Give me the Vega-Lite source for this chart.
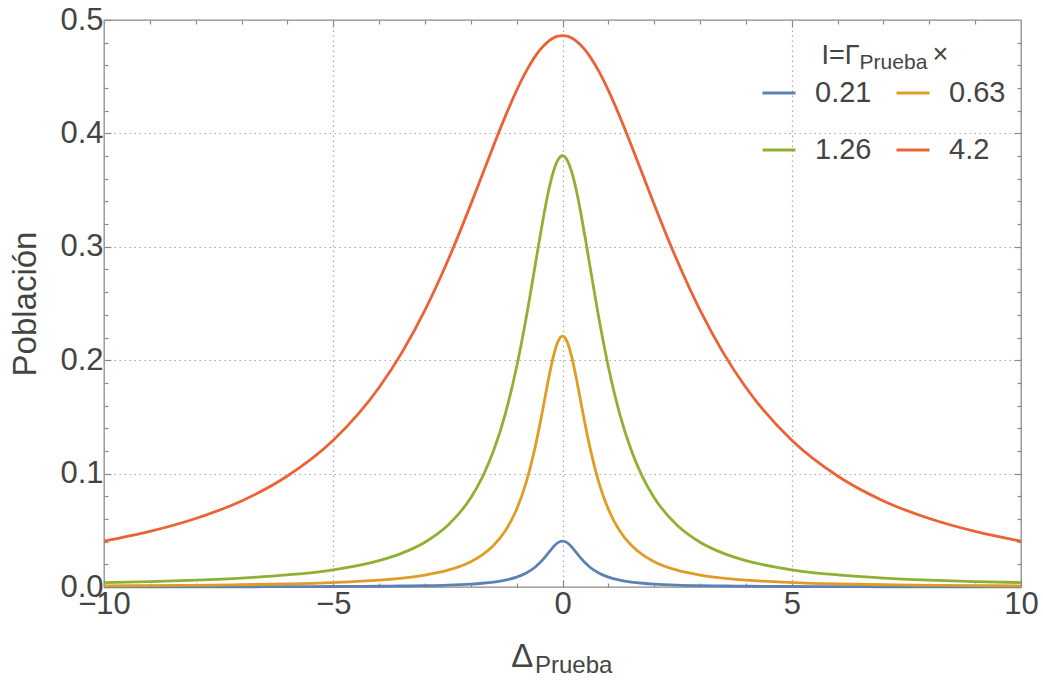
{
  "$schema": "https://vega.github.io/schema/vega-lite/v6.json",
  "width": 917,
  "height": 567,
  "autosize": {"type": "none"},
  "padding": {"left": 104, "top": 20, "right": 22, "bottom": 97},
  "background": "white",
  "config": {
    "view": {"stroke": "#8a8a8a", "strokeWidth": 1.3},
    "font": "Liberation Sans",
    "axis": {"domain": false, "tickColor": "#8a8a8a", "tickWidth": 1.2, "labelFont": "Liberation Sans", "titleFont": "Liberation Sans", "labelColor": "#444444", "titleColor": "#444444", "titleFontWeight": "normal", "gridColor": "#a8a8a8", "gridDash": [1.5, 3.5], "gridWidth": 1.2, "labelFlush": false, "labelOverlap": false},
    "legend": {"labelFont": "Liberation Sans", "labelColor": "#444444"}
  },
  "datasets": {
    "curves": [
      {"d": -10, "p": 0.00011, "I": "0.21"}, {"d": -9, "p": 0.00014, "I": "0.21"}, {"d": -8, "p": 0.00017, "I": "0.21"}, {"d": -7, "p": 0.00022, "I": "0.21"}, {"d": -6, "p": 0.0003, "I": "0.21"}, {"d": -5, "p": 0.00044, "I": "0.21"}, {"d": -4, "p": 0.00068, "I": "0.21"}, {"d": -3.5, "p": 0.00088, "I": "0.21"}, {"d": -3, "p": 0.00119, "I": "0.21"}, {"d": -2.5, "p": 0.00169, "I": "0.21"}, {"d": -2, "p": 0.00258, "I": "0.21"}, {"d": -1.75, "p": 0.00331, "I": "0.21"}, {"d": -1.5, "p": 0.00437, "I": "0.21"}, {"d": -1.25, "p": 0.00601, "I": "0.21"}, {"d": -1, "p": 0.00867, "I": "0.21"}, {"d": -0.8, "p": 0.0121, "I": "0.21"}, {"d": -0.6, "p": 0.0174, "I": "0.21"}, {"d": -0.5, "p": 0.0211, "I": "0.21"}, {"d": -0.4, "p": 0.0255, "I": "0.21"}, {"d": -0.3, "p": 0.0305, "I": "0.21"}, {"d": -0.2, "p": 0.0353, "I": "0.21"}, {"d": -0.1, "p": 0.0391, "I": "0.21"}, {"d": 0, "p": 0.0405, "I": "0.21"}, {"d": 0.1, "p": 0.0391, "I": "0.21"}, {"d": 0.2, "p": 0.0353, "I": "0.21"}, {"d": 0.3, "p": 0.0305, "I": "0.21"}, {"d": 0.4, "p": 0.0255, "I": "0.21"}, {"d": 0.5, "p": 0.0211, "I": "0.21"}, {"d": 0.6, "p": 0.0174, "I": "0.21"}, {"d": 0.8, "p": 0.0121, "I": "0.21"}, {"d": 1, "p": 0.00867, "I": "0.21"}, {"d": 1.25, "p": 0.00601, "I": "0.21"}, {"d": 1.5, "p": 0.00437, "I": "0.21"}, {"d": 1.75, "p": 0.00331, "I": "0.21"}, {"d": 2, "p": 0.00258, "I": "0.21"}, {"d": 2.5, "p": 0.00169, "I": "0.21"}, {"d": 3, "p": 0.00119, "I": "0.21"}, {"d": 3.5, "p": 0.00088, "I": "0.21"}, {"d": 4, "p": 0.00068, "I": "0.21"}, {"d": 5, "p": 0.00044, "I": "0.21"}, {"d": 6, "p": 0.0003, "I": "0.21"}, {"d": 7, "p": 0.00022, "I": "0.21"}, {"d": 8, "p": 0.00017, "I": "0.21"}, {"d": 9, "p": 0.00014, "I": "0.21"}, {"d": 10, "p": 0.00011, "I": "0.21"},
      {"d": -10, "p": 0.001, "I": "0.63"}, {"d": -9, "p": 0.0012, "I": "0.63"}, {"d": -8, "p": 0.0015, "I": "0.63"}, {"d": -7, "p": 0.002, "I": "0.63"}, {"d": -6, "p": 0.0027, "I": "0.63"}, {"d": -5, "p": 0.0039, "I": "0.63"}, {"d": -4, "p": 0.006, "I": "0.63"}, {"d": -3.5, "p": 0.0078, "I": "0.63"}, {"d": -3, "p": 0.0105, "I": "0.63"}, {"d": -2.5, "p": 0.0148, "I": "0.63"}, {"d": -2, "p": 0.0223, "I": "0.63"}, {"d": -1.75, "p": 0.0283, "I": "0.63"}, {"d": -1.5, "p": 0.0368, "I": "0.63"}, {"d": -1.25, "p": 0.0493, "I": "0.63"}, {"d": -1, "p": 0.0685, "I": "0.63"}, {"d": -0.8, "p": 0.0912, "I": "0.63"}, {"d": -0.6, "p": 0.1227, "I": "0.63"}, {"d": -0.5, "p": 0.1421, "I": "0.63"}, {"d": -0.4, "p": 0.1631, "I": "0.63"}, {"d": -0.3, "p": 0.1843, "I": "0.63"}, {"d": -0.2, "p": 0.2031, "I": "0.63"}, {"d": -0.1, "p": 0.2164, "I": "0.63"}, {"d": 0, "p": 0.2213, "I": "0.63"}, {"d": 0.1, "p": 0.2164, "I": "0.63"}, {"d": 0.2, "p": 0.2031, "I": "0.63"}, {"d": 0.3, "p": 0.1843, "I": "0.63"}, {"d": 0.4, "p": 0.1631, "I": "0.63"}, {"d": 0.5, "p": 0.1421, "I": "0.63"}, {"d": 0.6, "p": 0.1227, "I": "0.63"}, {"d": 0.8, "p": 0.0912, "I": "0.63"}, {"d": 1, "p": 0.0685, "I": "0.63"}, {"d": 1.25, "p": 0.0493, "I": "0.63"}, {"d": 1.5, "p": 0.0368, "I": "0.63"}, {"d": 1.75, "p": 0.0283, "I": "0.63"}, {"d": 2, "p": 0.0223, "I": "0.63"}, {"d": 2.5, "p": 0.0148, "I": "0.63"}, {"d": 3, "p": 0.0105, "I": "0.63"}, {"d": 3.5, "p": 0.0078, "I": "0.63"}, {"d": 4, "p": 0.006, "I": "0.63"}, {"d": 5, "p": 0.0039, "I": "0.63"}, {"d": 6, "p": 0.0027, "I": "0.63"}, {"d": 7, "p": 0.002, "I": "0.63"}, {"d": 8, "p": 0.0015, "I": "0.63"}, {"d": 9, "p": 0.0012, "I": "0.63"}, {"d": 10, "p": 0.001, "I": "0.63"},
      {"d": -10, "p": 0.0039, "I": "1.26"}, {"d": -9, "p": 0.0048, "I": "1.26"}, {"d": -8, "p": 0.0061, "I": "1.26"}, {"d": -7, "p": 0.0079, "I": "1.26"}, {"d": -6, "p": 0.0107, "I": "1.26"}, {"d": -5, "p": 0.0152, "I": "1.26"}, {"d": -4, "p": 0.0233, "I": "1.26"}, {"d": -3.5, "p": 0.0299, "I": "1.26"}, {"d": -3, "p": 0.0395, "I": "1.26"}, {"d": -2.5, "p": 0.0544, "I": "1.26"}, {"d": -2, "p": 0.0787, "I": "1.26"}, {"d": -1.75, "p": 0.0967, "I": "1.26"}, {"d": -1.5, "p": 0.1205, "I": "1.26"}, {"d": -1.25, "p": 0.1523, "I": "1.26"}, {"d": -1, "p": 0.1942, "I": "1.26"}, {"d": -0.8, "p": 0.2357, "I": "1.26"}, {"d": -0.6, "p": 0.2827, "I": "1.26"}, {"d": -0.5, "p": 0.3068, "I": "1.26"}, {"d": -0.4, "p": 0.3297, "I": "1.26"}, {"d": -0.3, "p": 0.3501, "I": "1.26"}, {"d": -0.2, "p": 0.3662, "I": "1.26"}, {"d": -0.1, "p": 0.3766, "I": "1.26"}, {"d": 0, "p": 0.3803, "I": "1.26"}, {"d": 0.1, "p": 0.3766, "I": "1.26"}, {"d": 0.2, "p": 0.3662, "I": "1.26"}, {"d": 0.3, "p": 0.3501, "I": "1.26"}, {"d": 0.4, "p": 0.3297, "I": "1.26"}, {"d": 0.5, "p": 0.3068, "I": "1.26"}, {"d": 0.6, "p": 0.2827, "I": "1.26"}, {"d": 0.8, "p": 0.2357, "I": "1.26"}, {"d": 1, "p": 0.1942, "I": "1.26"}, {"d": 1.25, "p": 0.1523, "I": "1.26"}, {"d": 1.5, "p": 0.1205, "I": "1.26"}, {"d": 1.75, "p": 0.0967, "I": "1.26"}, {"d": 2, "p": 0.0787, "I": "1.26"}, {"d": 2.5, "p": 0.0544, "I": "1.26"}, {"d": 3, "p": 0.0395, "I": "1.26"}, {"d": 3.5, "p": 0.0299, "I": "1.26"}, {"d": 4, "p": 0.0233, "I": "1.26"}, {"d": 5, "p": 0.0152, "I": "1.26"}, {"d": 6, "p": 0.0107, "I": "1.26"}, {"d": 7, "p": 0.0079, "I": "1.26"}, {"d": 8, "p": 0.0061, "I": "1.26"}, {"d": 9, "p": 0.0048, "I": "1.26"}, {"d": 10, "p": 0.0039, "I": "1.26"},
      {"d": -10, "p": 0.0404, "I": "4.2"}, {"d": -9, "p": 0.049, "I": "4.2"}, {"d": -8, "p": 0.0604, "I": "4.2"}, {"d": -7, "p": 0.0759, "I": "4.2"}, {"d": -6, "p": 0.0979, "I": "4.2"}, {"d": -5, "p": 0.1294, "I": "4.2"}, {"d": -4, "p": 0.1759, "I": "4.2"}, {"d": -3.5, "p": 0.2069, "I": "4.2"}, {"d": -3, "p": 0.2441, "I": "4.2"}, {"d": -2.5, "p": 0.2879, "I": "4.2"}, {"d": -2, "p": 0.3374, "I": "4.2"}, {"d": -1.75, "p": 0.3635, "I": "4.2"}, {"d": -1.5, "p": 0.3896, "I": "4.2"}, {"d": -1.25, "p": 0.4148, "I": "4.2"}, {"d": -1, "p": 0.4379, "I": "4.2"}, {"d": -0.8, "p": 0.4542, "I": "4.2"}, {"d": -0.6, "p": 0.4677, "I": "4.2"}, {"d": -0.5, "p": 0.4732, "I": "4.2"}, {"d": -0.4, "p": 0.4778, "I": "4.2"}, {"d": -0.3, "p": 0.4814, "I": "4.2"}, {"d": -0.2, "p": 0.4841, "I": "4.2"}, {"d": -0.1, "p": 0.4857, "I": "4.2"}, {"d": 0, "p": 0.4862, "I": "4.2"}, {"d": 0.1, "p": 0.4857, "I": "4.2"}, {"d": 0.2, "p": 0.4841, "I": "4.2"}, {"d": 0.3, "p": 0.4814, "I": "4.2"}, {"d": 0.4, "p": 0.4778, "I": "4.2"}, {"d": 0.5, "p": 0.4732, "I": "4.2"}, {"d": 0.6, "p": 0.4677, "I": "4.2"}, {"d": 0.8, "p": 0.4542, "I": "4.2"}, {"d": 1, "p": 0.4379, "I": "4.2"}, {"d": 1.25, "p": 0.4148, "I": "4.2"}, {"d": 1.5, "p": 0.3896, "I": "4.2"}, {"d": 1.75, "p": 0.3635, "I": "4.2"}, {"d": 2, "p": 0.3374, "I": "4.2"}, {"d": 2.5, "p": 0.2879, "I": "4.2"}, {"d": 3, "p": 0.2441, "I": "4.2"}, {"d": 3.5, "p": 0.2069, "I": "4.2"}, {"d": 4, "p": 0.1759, "I": "4.2"}, {"d": 5, "p": 0.1294, "I": "4.2"}, {"d": 6, "p": 0.0979, "I": "4.2"}, {"d": 7, "p": 0.0759, "I": "4.2"}, {"d": 8, "p": 0.0604, "I": "4.2"}, {"d": 9, "p": 0.049, "I": "4.2"}, {"d": 10, "p": 0.0404, "I": "4.2"}
    ],
    "one": [{"k": 1}]
  },
  "layer": [
    {
      "data": {"name": "curves"},
      "mark": {"type": "line", "opacity": 0},
      "encoding": {
        "x": {"field": "d", "type": "quantitative", "scale": {"domain": [-10, 10], "nice": false, "zero": false}, "axis": {"orient": "bottom", "values": [-9, -8, -7, -6, -4, -3, -2, -1, 1, 2, 3, 4, 6, 7, 8, 9], "tickSize": -4, "labels": false, "grid": false, "title": null}},
        "y": {"field": "p", "type": "quantitative", "scale": {"domain": [0, 0.5], "nice": false, "zero": false}, "axis": {"orient": "left", "values": [0.02, 0.04, 0.06, 0.08, 0.12, 0.14, 0.16, 0.18, 0.22, 0.24, 0.26, 0.28, 0.32, 0.34, 0.36, 0.38, 0.42, 0.44, 0.46, 0.48], "tickSize": -4, "labels": false, "grid": false, "title": null}}
      }
    },
    {
      "data": {"name": "curves"},
      "mark": {"type": "line", "opacity": 0},
      "encoding": {
        "x": {"field": "d", "type": "quantitative", "scale": {"domain": [-10, 10], "nice": false, "zero": false}, "axis": {"orient": "top", "values": [-9, -8, -7, -6, -4, -3, -2, -1, 1, 2, 3, 4, 6, 7, 8, 9], "tickSize": -4, "labels": false, "grid": false, "title": null}},
        "y": {"field": "p", "type": "quantitative", "scale": {"domain": [0, 0.5], "nice": false, "zero": false}, "axis": {"orient": "right", "values": [0.02, 0.04, 0.06, 0.08, 0.12, 0.14, 0.16, 0.18, 0.22, 0.24, 0.26, 0.28, 0.32, 0.34, 0.36, 0.38, 0.42, 0.44, 0.46, 0.48], "tickSize": -4, "labels": false, "grid": false, "title": null}}
      }
    },
    {
      "data": {"name": "curves"},
      "mark": {"type": "line", "opacity": 0},
      "encoding": {
        "x": {"field": "d", "type": "quantitative", "scale": {"domain": [-10, 10], "nice": false, "zero": false}, "axis": {"orient": "top", "values": [-5, 0, 5], "tickSize": -7, "labels": false, "grid": false, "title": null}},
        "y": {"field": "p", "type": "quantitative", "scale": {"domain": [0, 0.5], "nice": false, "zero": false}, "axis": {"orient": "right", "values": [0.1, 0.2, 0.3, 0.4], "tickSize": -7, "labels": false, "grid": false, "title": null}}
      }
    },
    {
      "data": {"name": "curves"},
      "mark": {"type": "line", "strokeWidth": 2.8, "interpolate": "monotone"},
      "encoding": {
        "x": {"field": "d", "type": "quantitative", "scale": {"domain": [-10, 10], "nice": false, "zero": false}, "axis": {"orient": "bottom", "values": [-10, -5, 0, 5, 10], "format": "d", "tickSize": -7, "labelFontSize": 31, "labelPadding": 9, "grid": true, "title": null}},
        "y": {"field": "p", "type": "quantitative", "scale": {"domain": [0, 0.5], "nice": false, "zero": false}, "axis": {"orient": "left", "values": [0, 0.1, 0.2, 0.3, 0.4, 0.5], "format": ".1f", "tickSize": -7, "labelFontSize": 31, "labelPadding": 8, "grid": true, "title": "Población", "titleFontSize": 33, "titlePadding": 17}},
        "color": {"field": "I", "type": "nominal", "scale": {"domain": ["0.21", "0.63", "1.26", "4.2"], "range": ["#5E81B5", "#E19C24", "#8FB032", "#EB6235"]}, "legend": {"orient": "none", "direction": "horizontal", "legendX": 657, "legendY": 55, "title": null, "columns": 2, "symbolType": "stroke", "symbolSize": 1089, "symbolStrokeWidth": 3, "labelFontSize": 29, "labelOffset": 18, "columnPadding": 18, "rowPadding": 24, "padding": 0}}
      }
    },
    {
      "data": {"name": "one"},
      "mark": {"type": "text", "text": "I=Γ", "align": "left", "baseline": "alphabetic", "fontSize": 27, "color": "#444444"},
      "encoding": {
        "x": {"datum": 5.65, "type": "quantitative", "scale": {"domain": [-10, 10], "nice": false, "zero": false}, "axis": null},
        "y": {"datum": 0.4612, "type": "quantitative", "scale": {"domain": [0, 0.5], "nice": false, "zero": false}, "axis": null}
      }
    },
    {
      "data": {"name": "one"},
      "mark": {"type": "text", "text": "Prueba", "align": "left", "baseline": "alphabetic", "fontSize": 21, "color": "#444444"},
      "encoding": {
        "x": {"datum": 6.48, "type": "quantitative", "scale": {"domain": [-10, 10], "nice": false, "zero": false}, "axis": null},
        "y": {"datum": 0.4568, "type": "quantitative", "scale": {"domain": [0, 0.5], "nice": false, "zero": false}, "axis": null}
      }
    },
    {
      "data": {"name": "one"},
      "mark": {"type": "text", "text": "×", "align": "left", "baseline": "alphabetic", "fontSize": 27, "color": "#444444"},
      "encoding": {
        "x": {"datum": 8.07, "type": "quantitative", "scale": {"domain": [-10, 10], "nice": false, "zero": false}, "axis": null},
        "y": {"datum": 0.4625, "type": "quantitative", "scale": {"domain": [0, 0.5], "nice": false, "zero": false}, "axis": null}
      }
    },
    {
      "data": {"name": "one"},
      "mark": {"type": "text", "text": "Δ", "align": "left", "baseline": "alphabetic", "fontSize": 33, "color": "#444444"},
      "encoding": {
        "x": {"datum": -1.12, "type": "quantitative", "scale": {"domain": [-10, 10], "nice": false, "zero": false}, "axis": null},
        "y": {"datum": -0.0705, "type": "quantitative", "scale": {"domain": [0, 0.5], "nice": false, "zero": false}, "axis": null}
      }
    },
    {
      "data": {"name": "one"},
      "mark": {"type": "text", "text": "Prueba", "align": "left", "baseline": "alphabetic", "fontSize": 24, "color": "#444444"},
      "encoding": {
        "x": {"datum": -0.6, "type": "quantitative", "scale": {"domain": [-10, 10], "nice": false, "zero": false}, "axis": null},
        "y": {"datum": -0.0755, "type": "quantitative", "scale": {"domain": [0, 0.5], "nice": false, "zero": false}, "axis": null}
      }
    }
  ],
  "resolve": {"axis": {"x": "independent", "y": "independent"}}
}
